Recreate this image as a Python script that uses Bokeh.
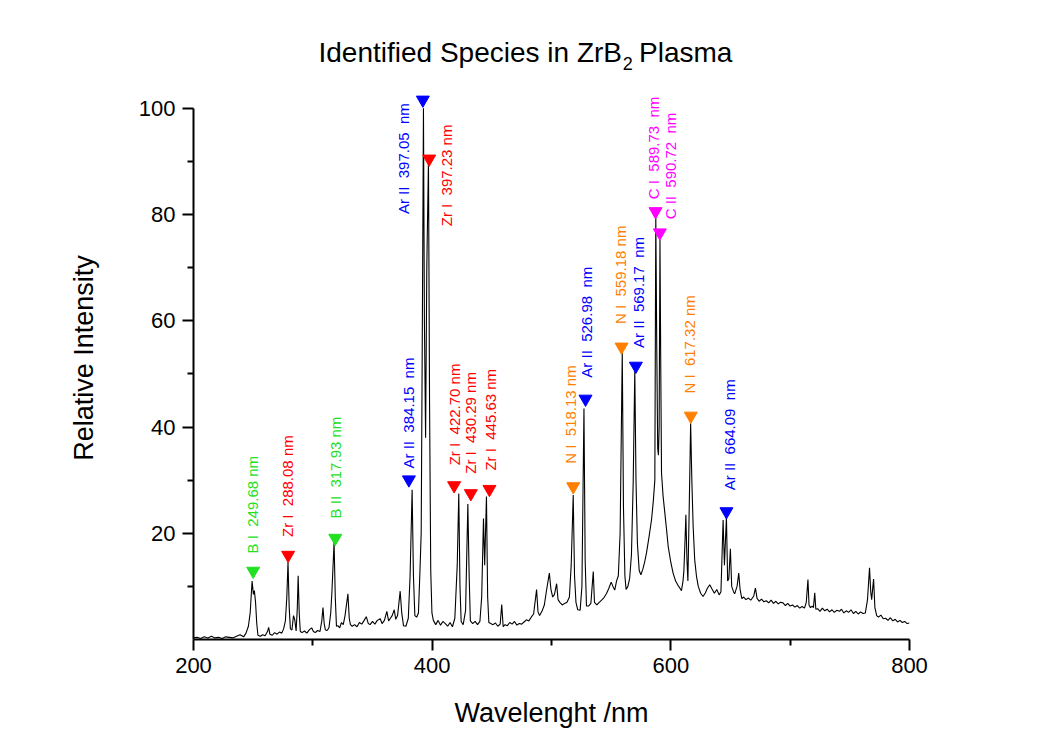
from math import pi
from bokeh.plotting import figure
from bokeh.layouts import column
from bokeh.models import ColumnDataSource, Range1d, FixedTicker
from bokeh.core.properties import value
from bokeh.embed import file_html
from bokeh.resources import INLINE

# ---------------- data ----------------
wavelength = [
    200, 203, 206, 209, 212, 215, 218, 221, 224, 227, 230, 233, 236, 239, 242, 244, 246, 247.5,
    249.1, 250.2, 251, 252, 253, 254, 256, 258, 260, 262, 263, 264, 266, 268, 270, 272, 274,
    275.5, 277, 278.2, 279.2, 280.2, 281.2, 282.5, 283.8, 284.8, 286, 287, 287.7, 288.6, 289.5,
    291, 293, 295, 297, 299, 300.5, 302, 304, 306, 307.5, 308.5, 309.5, 310.5, 312, 313.5, 315,
    316, 317.8, 318.8, 319.8, 321, 322.5, 324, 325.5, 327, 329.4, 330.5, 331.5, 333, 335, 337,
    339, 341, 343, 344.8, 346.5, 348, 350, 352, 354, 356.5, 358, 360, 362, 363.5, 365, 366.5,
    368.2, 369.5, 371, 373.2, 374.5, 376, 378, 380, 381.5, 383.2, 384.3, 385.5, 387, 388.5,
    389.8, 390.8, 391.8, 392.7, 393.5, 394.5, 395.5, 396.9, 397.8, 398.8, 399.8, 401, 403, 405,
    407, 409, 411, 413, 415, 417, 419, 421, 422.3, 423.3, 424.3, 426, 428, 429.9, 431, 432, 434,
    436, 438, 440, 441.5, 443, 444, 445.5, 446.5, 447.5, 449, 451, 453, 455, 457, 458.3, 459.5,
    461, 463, 465, 467, 469, 471, 473, 475, 477, 479, 481, 483, 485, 487.5, 488.7, 490, 492, 494,
    496, 498.2, 499.5, 501, 502.5, 504.3, 505.5, 507, 509, 511, 513, 515, 516.5, 518.2, 519.3,
    520.5, 522, 524, 525.5, 527.2, 528.2, 529.3, 531, 533, 535, 536, 538, 540, 542, 544, 546,
    548, 550, 551.5, 553, 554.5, 556, 557.5, 559.3, 560.3, 561.5, 562.5, 564, 565.5, 567, 568.5,
    569.8, 570.8, 572, 573.5, 574.9, 576.5, 578, 579.6, 581.5, 583.8, 585.3, 586.6, 587.4, 588.2,
    589.0, 589.6, 590.2, 590.9, 591.6, 592.2, 593.5, 595, 596.5, 597.8, 600, 601.9, 604, 606,
    607.5, 608.9, 610.2, 610.9, 611.8, 612.6, 613.5, 614.3, 615.5, 616.6, 617.6, 618.7, 620,
    621.5, 623, 625, 627, 629, 630.5, 632.6, 634.5, 636.5, 638.5, 640.5, 642, 643.8, 644.9,
    646.6, 647.6, 648.6, 649.9, 651, 652.5, 653.5, 655.5, 656.9, 658, 659.5, 661, 663, 665, 667,
    669.5, 670.9, 672.2, 674, 676, 678, 680, 682, 684, 686, 688, 690, 692, 694, 696, 698, 700,
    702, 704, 706, 708, 710, 712, 713.5, 714.9, 715.8, 717, 718.5, 719.5, 720.6, 721.5, 723, 725,
    727, 729, 731, 733, 735, 737, 739, 741.4, 743, 745, 747, 749, 751, 753, 755, 757, 759, 761,
    763, 764.8, 766.5, 767.5, 768.3, 769.9, 771, 772.5, 774, 776, 778, 780, 782, 784, 786, 788,
    790, 792, 794, 796, 798, 800,
]
intensity = [
    0.3, 0.4, 0.2, 0.5, 0.3, 0.6, 0.3, 0.4, 0.2, 0.5, 0.4, 0.3, 0.6, 0.9, 0.5, 1.2, 2.5, 5.0,
    11.0, 8.5, 9.2, 7.0, 3.0, 0.8, 0.6, 0.9, 0.7, 1.5, 2.3, 1.0, 0.8, 1.3, 1.0, 1.4, 1.2,
    2.0, 3.5, 8.0, 14.6, 6.0, 2.0, 1.8, 4.5, 3.8, 1.6, 6.0, 12.0, 5.0, 1.5,
    1.3, 1.6, 1.2, 1.8, 2.2, 1.5, 1.3, 1.7, 1.5, 3.5, 6.0, 3.0, 1.8, 1.7, 2.2, 5.0,
    9.0, 18.3, 8.0, 2.5, 2.6, 2.2, 3.2, 2.8, 4.5, 8.6, 4.0, 2.8, 2.5, 2.8, 2.4,
    3.2, 2.9, 3.6, 4.3, 3.0, 2.8, 3.4, 2.9, 3.6, 3.9, 3.0, 3.6, 5.3, 3.5, 4.0, 4.5,
    5.6, 3.8, 4.5, 9.1, 5.0, 2.6, 2.5, 4.0, 12.0, 28.2, 12.0, 4.5, 4.2, 5.0,
    13.1, 20.0, 60.0, 100.0, 60.0, 38.0, 70.0, 90.3, 45.0, 13.0, 5.0, 3.6, 2.8, 3.6,
    2.7, 3.4, 3.0, 2.5, 3.2, 2.4, 4.0, 14.0, 27.5, 10.0, 3.4, 2.8, 5.5, 25.5, 12.0, 3.5, 3.0,
    3.4, 2.8, 3.4, 8.0, 22.8, 14.0, 26.9, 8.0, 3.2, 3.0, 2.8, 3.1, 2.5, 2.9, 6.6, 2.4,
    2.8, 2.6, 3.2, 2.9, 3.4, 2.7, 3.0, 2.9, 3.3, 3.7, 3.5, 4.2, 4.8, 9.4, 5.2, 4.5, 5.3, 6.5,
    9.5, 12.5, 9.5, 8.0, 8.5, 10.5, 7.5, 7.0, 6.5, 6.8, 7.0, 8.0, 14.0, 27.2, 12.0,
    7.0, 5.6, 5.5, 10.0, 43.5, 15.0, 6.3, 6.3, 6.8, 12.8, 7.0, 6.5, 7.0, 7.4, 7.9, 8.6,
    9.6, 10.8, 10.0, 9.3, 11.0, 12.0, 20.0, 54.1, 25.0, 12.0, 9.4, 10.0, 11.5, 16.0, 30.0,
    50.6, 30.0, 18.0, 13.0, 12.2, 13.2, 14.5, 16.3, 19.0, 22.5, 26.0, 30.0, 79.8, 55.0,
    36.0, 34.7, 40.0, 75.2, 50.0, 31.3, 27.0, 23.8, 20.5, 17.5, 14.5, 12.5, 11.0, 10.2,
    9.7, 9.2, 11.0, 12.8, 18.0, 23.5, 15.0, 11.0, 26.0, 40.7, 30.0, 21.3, 15.0,
    11.9, 10.0, 8.7, 8.1, 8.8, 9.6, 10.3, 9.5, 8.7, 9.4, 8.4, 9.0, 22.5, 14.0,
    23.0, 11.0, 11.5, 17.1, 10.0, 9.0, 8.6, 10.0, 12.5, 9.5, 7.7, 8.0, 7.5, 7.8, 7.4,
    8.2, 9.7, 7.8, 7.2, 7.6, 7.1, 7.3, 6.9, 7.4, 6.8, 7.2, 6.7, 7.0, 6.9, 6.4, 6.8, 6.3,
    6.5, 6.1, 6.4, 5.9, 6.2, 5.9, 7.0, 11.3, 6.5, 6.0, 6.3, 6.0, 8.8, 5.7, 5.8, 5.3,
    5.9, 5.4, 5.7, 5.2, 5.6, 5.1, 5.5, 5.3, 5.7, 5.0, 5.4, 5.1, 5.6, 4.9, 5.3, 4.8, 5.2, 4.9,
    5.0, 7.5, 13.5, 9.0, 7.5, 11.4, 6.0, 4.5, 4.2, 4.6, 3.9, 4.0, 3.6, 4.1, 3.5, 3.8,
    3.3, 3.6, 3.2, 3.4, 3.0, 3.1,
]

# identified lines: marker position, label position, label text (NBSP keeps the wide gaps)
S = "\u00a0 "
line_labels = [
    "B I" + S + "249.68 nm", "Zr I" + S + "288.08 nm", "B II" + S + "317.93 nm",
    "Ar II" + S + "384.15" + S + "nm", "Ar II" + S + "397.05" + S + "nm",
    "Zr I" + S + "397.23 nm", "Zr I" + S + "422.70 nm", "Zr I" + S + "430.29 nm",
    "Zr I" + S + "445.63 nm", "N I" + S + "518.13 nm", "Ar II" + S + "526.98" + S + "nm",
    "N I" + S + "559.18 nm", "Ar II" + S + "569.17" + S + "nm", "C I" + S + "589.73" + S + "nm",
    "C II" + S + "590.72" + S + "nm", "N I" + S + "617.32 nm", "Ar II" + S + "664.09" + S + "nm",
]
species = ["B", "Zr", "B", "Ar", "Ar", "Zr", "Zr", "Zr", "Zr", "N", "Ar", "N", "Ar", "C", "C", "N", "Ar"]
marker_x = [250.0, 279.3, 318.8, 380.5, 392.2, 397.5, 418.4, 432.4, 448.0,
            518.2, 528.5, 558.7, 570.7, 587.2, 590.8, 616.7, 646.6]
marker_y = [12.9, 15.9, 19.1, 30.1, 101.6, 90.5, 29.0, 27.5, 28.3,
            28.8, 45.3, 55.1, 51.5, 80.6, 76.6, 42.1, 24.1]
label_x = [249.1, 278.4, 318.8, 380.2, 376.0, 412.3, 418.4, 432.4, 448.5,
           515.9, 529.7, 557.7, 573.2, 585.8, 599.7, 615.9, 648.8]
label_y = [16.2, 19.3, 22.8, 32.2, 80.1, 77.8, 32.8, 31.2, 31.8,
           33.1, 49.3, 59.4, 54.9, 82.9, 79.1, 46.3, 28.1]
species_color = {"B": "#22e022", "Zr": "#ff0000", "Ar": "#0000ff", "N": "#ff8000", "C": "#ff00ff"}
colors = [species_color[s] for s in species]

x_major = [200, 400, 600, 800]
x_minor = [300, 500, 700]
y_major = [20, 40, 60, 80, 100]
y_minor = [10, 30, 50, 70, 90]

title_parts = ["Identified Species in ZrB", "2", "Plasma"]

FONT = "Liberation Sans"
W, H_TITLE, H_MAIN = 1051, 76, 662

# ---------------- title strip (pixel coordinates) ----------------
pt = figure(width=W, height=H_TITLE, output_backend="svg", toolbar_location=None,
            x_range=Range1d(0, W), y_range=Range1d(0, H_TITLE),
            min_border=0, min_border_left=0, min_border_right=0,
            min_border_top=0, min_border_bottom=0)
pt.axis.visible = False
pt.grid.visible = False
pt.outline_line_color = None
pt.text(x=[629], y=[24], text=[title_parts[0]], text_align="right", text_baseline="middle",
        text_font=value(FONT), text_font_size="28px", text_color="black")
pt.text(x=[630], y=[13], text=[title_parts[1]], text_align="left", text_baseline="middle",
        text_font=value(FONT), text_font_size="18px", text_color="black")
pt.text(x=[654], y=[24], text=[title_parts[2]], text_align="left", text_baseline="middle",
        text_font=value(FONT), text_font_size="28px", text_color="black")

# ---------------- main plot ----------------
p = figure(width=W, height=H_MAIN, output_backend="svg", toolbar_location=None,
           x_range=Range1d(200, 800), y_range=Range1d(0, 106),
           min_border_left=193, min_border_right=142, min_border_top=0, min_border_bottom=99)
p.outline_line_color = None
p.xgrid.visible = False
p.ygrid.visible = False
p.background_fill_color = "white"
p.border_fill_color = "white"

p.line(wavelength, intensity, line_color="black", line_width=1.1)

src_m = ColumnDataSource(dict(x=marker_x, y=marker_y, c=colors))
p.scatter("x", "y", source=src_m, marker="inverted_triangle", size=13,
          fill_color="c", line_color="c")

src_t = ColumnDataSource(dict(x=label_x, y=label_y, t=line_labels, c=colors))
p.text("x", "y", text="t", source=src_t, angle=pi / 2, text_align="left",
       text_baseline="middle", text_color="c", text_font=value(FONT),
       text_font_size="15px")

for ax, maj, mnr, bnd in ((p.xaxis, x_major, x_minor, (200, 800)),
                          (p.yaxis, y_major, y_minor, (0, 100))):
    ax.ticker = FixedTicker(ticks=maj, minor_ticks=mnr)
    ax.bounds = bnd
    ax.axis_line_width = 2
    ax.axis_line_color = "black"
    ax.major_tick_line_width = 2
    ax.minor_tick_line_width = 2
    ax.major_tick_line_color = "black"
    ax.minor_tick_line_color = "black"
    ax.major_tick_out = 11
    ax.major_tick_in = 0
    ax.minor_tick_out = 6
    ax.minor_tick_in = 0
    ax.major_label_text_font = FONT
    ax.major_label_text_font_size = "22px"
    ax.major_label_text_color = "black"
    ax.axis_label_text_font = FONT
    ax.axis_label_text_font_size = "27px"
    ax.axis_label_text_font_style = "normal"
    ax.axis_label_text_color = "black"
    ax.major_label_standoff = 7

p.xaxis.axis_label = "Wavelenght /nm"
p.yaxis.axis_label = "Relative Intensity"
p.xaxis.axis_label_standoff = 22
p.yaxis.axis_label_standoff = 37

layout = column(pt, p, spacing=0)
open("out.html", "w").write(file_html(layout, INLINE))
